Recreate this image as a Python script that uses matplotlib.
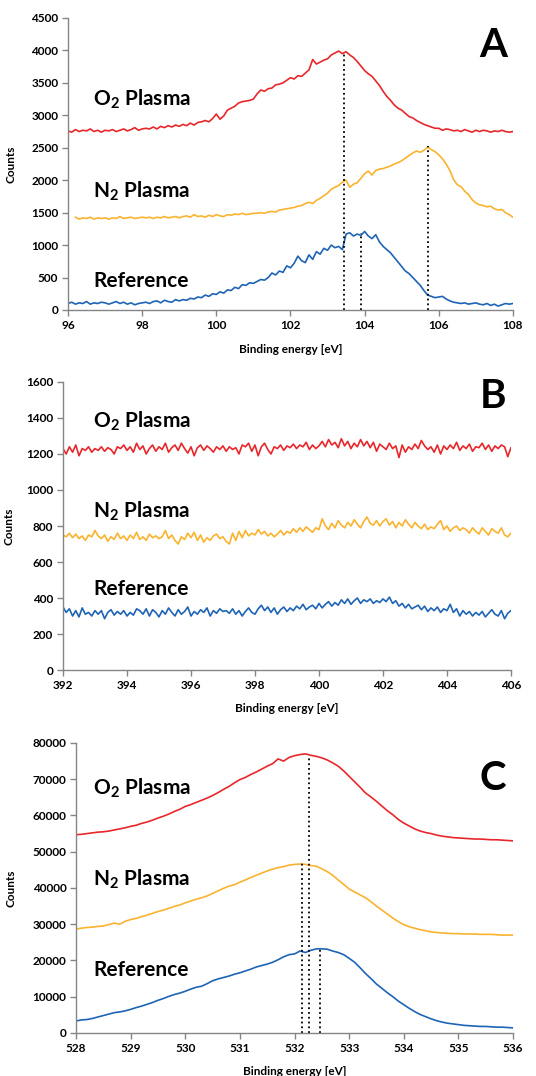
import numpy as np
import matplotlib
matplotlib.use("Agg")
import matplotlib.pyplot as plt

plt.rcParams['font.family'] = ['Lato', 'DejaVu Sans']
plt.rcParams['mathtext.fontset'] = 'custom'
plt.rcParams['mathtext.rm'] = 'Lato'
plt.rcParams['mathtext.bf'] = 'Lato:bold'

RED = '#E8272B'
ORANGE = '#FAB32E'
BLUE = '#1E64B5'

# ---- panel A (Si 2p region) ----
e_a = np.round(np.arange(96.0, 108.001, 0.1), 1)
e_a_n2 = e_a[2:]  # N2 trace starts at 96.2

a_o2 = [2760, 2740, 2780, 2750, 2770, 2760, 2790, 2750, 2770, 2740, 2770,
        2760, 2780, 2750, 2770, 2790, 2760, 2780, 2810, 2770, 2790,
        2800, 2790, 2820, 2790, 2830, 2810, 2840, 2820, 2850, 2830,
        2860, 2840, 2880, 2850, 2890, 2900, 2920, 2900, 2950, 3020,
        2940, 2990, 3080, 3110, 3140, 3190, 3210, 3220, 3230, 3250,
        3330, 3390, 3370, 3410, 3420, 3470, 3480, 3500, 3540, 3580,
        3560, 3610, 3600, 3650, 3700, 3860, 3790, 3820, 3850, 3870,
        3930, 3960, 3990, 3950, 3980, 3930, 3890, 3830, 3760, 3690,
        3640, 3600, 3530, 3460, 3370, 3290, 3230, 3160, 3110, 3080,
        3030, 2980, 2960, 2920, 2890, 2860, 2840, 2820, 2800, 2800,
        2770, 2790, 2780, 2760, 2770, 2750, 2780, 2760, 2740, 2770,
        2750, 2770, 2760, 2740, 2760, 2750, 2770, 2750, 2740, 2750]

a_n2 = [1430, 1400, 1420, 1410, 1430, 1400, 1420, 1410, 1420,
        1400, 1420, 1410, 1440, 1410, 1420, 1430, 1410, 1420, 1430,
        1420, 1430, 1410, 1430, 1420, 1440, 1420, 1430, 1440, 1420,
        1440, 1450, 1430, 1470, 1440, 1450, 1430, 1460, 1440, 1470,
        1450, 1440, 1470, 1460, 1480, 1470, 1490, 1470, 1480, 1490,
        1490, 1500, 1490, 1510, 1520, 1510, 1540, 1550, 1560, 1570,
        1580, 1600, 1610, 1640, 1660, 1640, 1690, 1720, 1760, 1800,
        1860, 1890, 1920, 1970, 2000, 1890, 1940, 1960, 2030, 2100,
        2140, 2080, 2150, 2170, 2180, 2200, 2220, 2250, 2270, 2300,
        2340, 2380, 2420, 2450, 2430, 2460, 2510, 2470, 2440, 2390,
        2330, 2250, 2150, 2010, 1930, 1900, 1830, 1780, 1700, 1650,
        1620, 1610, 1590, 1600, 1560, 1540, 1550, 1500, 1470, 1430]

a_ref = [100, 120, 90, 110, 100, 130, 90, 110, 100, 120, 110,
         90, 110, 130, 100, 120, 90, 110, 80, 100, 110,
         120, 100, 130, 140, 110, 150, 130, 120, 160, 140,
         160, 150, 180, 170, 200, 190, 230, 210, 250, 240,
         280, 260, 310, 300, 350, 330, 390, 380, 420, 410,
         440, 470, 460, 500, 570, 540, 600, 580, 680, 650,
         720, 830, 760, 730, 850, 780, 900, 860, 950, 920,
         1000, 960, 980, 930, 1170, 1190, 1140, 1170, 1150, 1210,
         1140, 1100, 1160, 1050, 980, 930, 880, 810, 740, 670,
         600, 560, 500, 440, 380, 300, 230, 210, 190, 200,
         210, 170, 140, 120, 110, 100, 110, 90, 100, 110,
         90, 80, 100, 70, 90, 60, 80, 100, 90, 100]

a_peak_e = [103.45, 103.9, 105.7]
a_peak_top = [3980, 1190, 2530]

# ---- panel B (N 1s region) ----
e_b = np.round(np.arange(392.0, 406.001, 0.1), 1)

b_o2 = [1230, 1200, 1240, 1210, 1250, 1190, 1230, 1220, 1240, 1210, 1230,
        1220, 1240, 1215, 1235, 1225, 1200, 1240, 1230, 1250, 1220,
        1240, 1210, 1260, 1225, 1245, 1200, 1230, 1250, 1215, 1240,
        1225, 1260, 1210, 1235, 1250, 1220, 1260, 1230, 1205, 1240,
        1190, 1235, 1250, 1220, 1245, 1230, 1210, 1240, 1225, 1245,
        1215, 1240, 1225, 1235, 1200, 1250, 1240, 1260, 1215, 1250,
        1190, 1240, 1260, 1225, 1200, 1240, 1230, 1250, 1220, 1245,
        1235, 1255, 1230, 1250, 1240, 1265, 1225, 1250, 1230, 1245,
        1270, 1240, 1280, 1250, 1265, 1235, 1285, 1245, 1270, 1230,
        1260, 1240, 1280, 1245, 1270, 1235, 1265, 1215, 1255, 1240,
        1225, 1260, 1230, 1245, 1180, 1250, 1210, 1240, 1225, 1255,
        1230, 1275, 1245, 1225, 1240, 1210, 1250, 1200, 1245, 1225,
        1250, 1230, 1265, 1220, 1245, 1230, 1255, 1215, 1240, 1235,
        1260, 1225, 1250, 1215, 1245, 1230, 1250, 1240, 1185, 1235]

b_n2 = [750, 740, 760, 735, 755, 730, 745, 720, 750, 740, 775,
        745, 730, 750, 715, 740, 725, 760, 730, 745, 720,
        750, 730, 765, 725, 740, 720, 755, 735, 745, 730,
        740, 775, 730, 750, 720, 700, 740, 725, 760, 735,
        765, 720, 750, 710, 735, 720, 745, 755, 730, 740,
        715, 700, 760, 720, 770, 735, 775, 745, 760, 750,
        780, 755, 770, 745, 760, 740, 755, 775, 750, 770,
        760, 785, 765, 790, 770, 795, 780, 765, 790, 780,
        840, 800, 780, 815, 790, 830, 805, 790, 820, 800,
        835, 810, 790, 825, 850, 815, 805, 830, 800, 825,
        840, 805, 825, 790, 820, 800, 835, 810, 790, 820,
        800, 785, 810, 780, 795, 785, 810, 830, 780, 800,
        770, 790, 800, 775, 790, 780, 760, 790, 770, 755,
        790, 770, 750, 785, 770, 760, 790, 750, 740, 760]

b_ref = [350, 320, 340, 300, 330, 295, 345, 310, 320, 300, 330,
         310, 330, 285, 320, 335, 305, 325, 310, 330, 300,
         320, 305, 340, 330, 310, 340, 300, 335, 320, 295,
         330, 310, 345, 320, 300, 335, 310, 325, 350, 300,
         325, 310, 335, 320, 345, 300, 330, 315, 340, 325,
         330, 315, 340, 310, 330, 300, 325, 345, 320, 310,
         340, 360, 330, 350, 320, 345, 310, 335, 350, 325,
         345, 330, 355, 340, 365, 335, 350, 360, 340, 370,
         345, 365, 380, 355, 375, 360, 390, 370, 395, 365,
         385, 400, 370, 390, 380, 395, 370, 385, 375, 395,
         380, 405, 370, 385, 355, 370, 345, 365, 340, 350,
         360, 335, 355, 325, 345, 330, 350, 320, 340, 330,
         365, 320, 340, 300, 330, 310, 325, 300, 320, 305,
         325, 295, 315, 335, 310, 300, 330, 285, 315, 330]

# ---- panel C (O 1s region), values in thousands of counts ----
e_c = np.round(np.arange(528.0, 536.001, 0.1), 1)

c_o2 = [54.7, 54.8, 55.0, 55.2, 55.4, 55.5, 55.7, 56.0, 56.3, 56.6, 57.0,
        57.3, 57.8, 58.2, 58.7, 59.3, 59.8, 60.4, 61.1, 61.7, 62.5,
        63.0, 63.6, 64.2, 64.8, 65.5, 66.3, 67.2, 68.0, 69.0, 69.9,
        70.5, 71.3, 72.0, 72.8, 73.6, 74.3, 75.6, 75.0, 76.0, 76.5,
        76.8, 77.0, 76.6, 76.3, 75.9, 75.3, 74.5, 73.6, 72.3, 70.8,
        69.3, 67.8, 66.2, 65.1, 63.9, 62.6, 61.3, 60.2, 58.9, 57.9,
        57.1, 56.3, 55.7, 55.3, 55.0, 54.6, 54.3, 54.1, 53.9, 53.8,
        53.7, 53.6, 53.5, 53.5, 53.4, 53.3, 53.3, 53.2, 53.1, 53.0]

c_n2 = [28.7, 28.9, 29.1, 29.2, 29.4, 29.5, 29.9, 30.3, 30.0, 30.8, 31.3,
        31.6, 32.1, 32.5, 33.0, 33.5, 33.9, 34.4, 34.9, 35.3, 35.9,
        36.4, 36.9, 37.3, 37.8, 38.5, 39.2, 39.9, 40.5, 40.9, 41.6,
        42.2, 42.9, 43.5, 44.1, 44.7, 45.2, 45.6, 45.9, 46.3, 46.5,
        46.6, 46.5, 46.2, 46.0, 45.3, 44.5, 43.5, 42.2, 41.0, 39.7,
        38.9, 38.1, 37.3, 36.2, 35.0, 33.9, 32.8, 31.7, 30.7, 29.9,
        29.3, 28.9, 28.5, 28.2, 27.9, 27.7, 27.6, 27.5, 27.4, 27.4,
        27.3, 27.3, 27.3, 27.2, 27.2, 27.2, 27.1, 27.0, 27.0, 27.0]

c_ref = [3.3, 3.6, 3.7, 4.0, 4.4, 4.8, 5.2, 5.6, 5.8, 6.1, 6.5,
         7.0, 7.4, 7.9, 8.4, 9.0, 9.5, 10.1, 10.6, 11.0, 11.5,
         12.1, 12.6, 12.9, 13.6, 14.4, 14.9, 15.3, 15.7, 16.2, 16.6,
         17.1, 17.6, 18.2, 18.6, 19.0, 19.5, 20.2, 21.0, 21.6, 21.8,
         22.6, 22.2, 22.8, 23.2, 23.2, 23.1, 22.6, 22.2, 21.6, 20.6,
         19.5, 18.0, 16.4, 15.0, 13.5, 12.3, 11.1, 10.0, 8.8, 7.8,
         6.8, 5.9, 5.1, 4.5, 3.9, 3.4, 3.0, 2.7, 2.5, 2.3,
         2.1, 2.0, 1.9, 1.8, 1.8, 1.7, 1.6, 1.6, 1.5, 1.4]

c_peak_e = [532.13, 532.27, 532.47]
c_peak_top = [47300, 76500, 23200]

labels = [r'O$_{\mathbf{2}}$ Plasma', r'N$_{\mathbf{2}}$ Plasma', 'Reference']


def style_axes(ax, xticks, yticks, xlim, ylim, ylab_x):
    ax.set_xlim(*xlim)
    ax.set_ylim(*ylim)
    ax.set_xticks(xticks)
    ax.set_yticks(yticks)
    for s in ['top', 'right']:
        ax.spines[s].set_visible(False)
    for s in ['left', 'bottom']:
        ax.spines[s].set_color('#858585')
        ax.spines[s].set_linewidth(1.0)
    ax.tick_params(direction='out', length=4, width=1.0, color='#858585',
                   labelsize=8.5, pad=3)
    for t in ax.get_xticklabels() + ax.get_yticklabels():
        t.set_fontweight('bold')
    ax.set_xlabel('Binding energy [eV]', fontsize=8.5, fontweight='bold')
    ax.set_ylabel('Counts', fontsize=8.5, fontweight='bold')
    ax.xaxis.set_label_coords(0.5, -0.115)
    ax.yaxis.set_label_coords(ylab_x, 0.5)


def put_labels(ax, x, ys, letter, letter_xy):
    for lab, y in zip(labels, ys):
        ax.text(x, y, lab, transform=ax.transAxes, fontsize=15,
                fontweight='bold', va='baseline', ha='left')
    ax.text(letter_xy[0], letter_xy[1], letter, transform=ax.transAxes,
            fontsize=29, fontweight='bold', va='baseline', ha='center')


fig = plt.figure(figsize=(5.36, 10.76), dpi=100)

# Panel A
ax = fig.add_axes([0.1269, 0.7119, 0.830, 0.2714])
ax.plot(e_a, a_o2, color=RED, lw=1.2)
ax.plot(e_a_n2, a_n2, color=ORANGE, lw=1.2)
ax.plot(e_a, a_ref, color=BLUE, lw=1.2)
for e, top in zip(a_peak_e, a_peak_top):
    ax.plot([e, e], [0, top], color='black', ls=':', lw=1.3)
style_axes(ax, np.arange(96, 109, 2), np.arange(0, 4501, 500),
           (96, 108), (0, 4500), -0.115)
put_labels(ax, 0.056, [0.699, 0.387, 0.079], 'A', (0.955, 0.866))

# Panel B
ax = fig.add_axes([0.1175, 0.3773, 0.8358, 0.2677])
ax.plot(e_b, b_o2, color=RED, lw=1.2)
ax.plot(e_b, b_n2, color=ORANGE, lw=1.2)
ax.plot(e_b, b_ref, color=BLUE, lw=1.2)
style_axes(ax, np.arange(392, 407, 2), np.arange(0, 1601, 200),
           (392, 406), (0, 1600), -0.109)
put_labels(ax, 0.067, [0.844, 0.531, 0.260], 'B', (0.96, 0.91))

# Panel C
ax = fig.add_axes([0.1418, 0.04, 0.8153, 0.2695])
ax.plot(e_c, np.array(c_o2) * 1000, color=RED, lw=1.2)
ax.plot(e_c, np.array(c_n2) * 1000, color=ORANGE, lw=1.2)
ax.plot(e_c, np.array(c_ref) * 1000, color=BLUE, lw=1.2)
for e, top in zip(c_peak_e, c_peak_top):
    ax.plot([e, e], [0, top], color='black', ls=':', lw=1.3)
style_axes(ax, np.arange(528, 537, 1), np.arange(0, 80001, 10000),
           (528, 536), (0, 80000), -0.137)
put_labels(ax, 0.039, [0.824, 0.510, 0.197], 'C', (0.954, 0.838))

fig.savefig('out.png', dpi=100)
